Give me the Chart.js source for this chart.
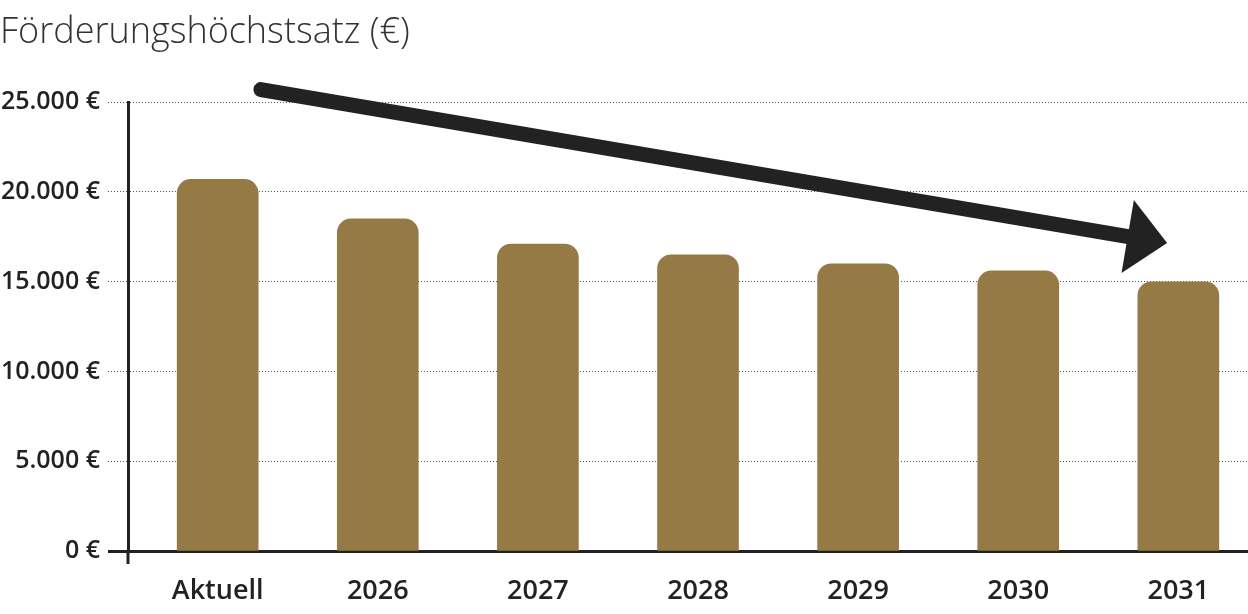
<!DOCTYPE html>
<html>
<head>
<meta charset="utf-8">
<script src="https://cdn.jsdelivr.net/npm/chart.js@4/dist/chart.umd.min.js"></script>
<style>
  html, body { margin: 0; padding: 0; background: #fff; }
  #wrap { position: relative; width: 1248px; height: 614px; }
</style>
</head>
<body>
<div id="wrap"><canvas id="chart"></canvas></div>
<script>
// data
const categories = ['Aktuell', '2026', '2027', '2028', '2029', '2030', '2031'];
const funding = [20700, 18500, 17100, 16500, 16000, 15600, 15000];
const yTicks = [0, 5000, 10000, 15000, 20000, 25000];
const yTickLabels = ['0 €', '5.000 €', '10.000 €', '15.000 €', '20.000 €', '25.000 €'];

const barColor = '#967a46';
const ink = '#222222';

// trend arrow, given in axis units (category index / euro)
const arrowFrom = { x: 0.27, y: 25700 };
const arrowTo = { x: 5.93, y: 17150 };

const arrowPlugin = {
    id: 'trendArrow',
    afterDraw(chart) {
        const { ctx, scales: { x, y }, chartArea } = chart;
        ctx.save();
        // y axis runs a little below the x axis
        ctx.strokeStyle = ink;
        ctx.lineWidth = 3;
        ctx.beginPath();
        ctx.moveTo(chartArea.left, chartArea.bottom);
        ctx.lineTo(chartArea.left, chartArea.bottom + 13);
        ctx.stroke();

        const x1 = x.getPixelForValue(arrowFrom.x), y1 = y.getPixelForValue(arrowFrom.y);
        const x2 = x.getPixelForValue(arrowTo.x), y2 = y.getPixelForValue(arrowTo.y);
        const ang = Math.atan2(y2 - y1, x2 - x1);
        const headLen = 40, headHalf = 37;
        const bx = x2 - headLen * Math.cos(ang), by = y2 - headLen * Math.sin(ang);

        ctx.strokeStyle = ink;
        ctx.fillStyle = ink;
        ctx.lineWidth = 15;
        ctx.lineCap = 'round';
        ctx.beginPath();
        ctx.moveTo(x1, y1);
        ctx.lineTo(bx + 2 * Math.cos(ang), by + 2 * Math.sin(ang));
        ctx.stroke();

        ctx.beginPath();
        ctx.moveTo(x2, y2);
        ctx.lineTo(bx - headHalf * Math.sin(ang), by + headHalf * Math.cos(ang));
        ctx.lineTo(bx + headHalf * Math.sin(ang), by - headHalf * Math.cos(ang));
        ctx.closePath();
        ctx.fill();
        ctx.restore();
    }
};

new Chart(document.getElementById('chart'), {
    type: 'bar',
    data: {
        datasets: [{
            data: funding.map((v, i) => ({ x: i, y: v })),
            backgroundColor: barColor,
            borderRadius: 14,
            borderSkipped: 'bottom',
            barThickness: 81
        }]
    },
    options: {
        responsive: true,
        maintainAspectRatio: false,
        animation: false,
        layout: { padding: 0 },
        plugins: {
            legend: { display: false },
            tooltip: { enabled: false },
            title: {
                display: true,
                text: 'Förderungshöchstsatz (€)',
                align: 'start',
                color: '#333333',
                font: { family: 'Open Sans', size: 36, weight: 300 },
                padding: { top: 11, bottom: 48 }
            }
        },
        scales: {
            x: {
                type: 'linear',
                offset: false,
                min: -0.56,
                max: 6.435,
                afterFit: (scale) => { scale.height = 63; },
                grid: { display: false },
                border: { display: true, color: ink, width: 3 },
                ticks: {
                    stepSize: 1,
                    includeBounds: false,
                    autoSkip: false,
                    maxRotation: 0,
                    padding: 16,
                    color: ink,
                    font: { family: 'Open Sans', size: 27, weight: 600 },
                    callback: (v) => categories[v] ?? ''
                }
            },
            y: {
                min: 0,
                max: 25000,
                afterFit: (scale) => { scale.width = 128; },
                afterBuildTicks: (scale) => { scale.ticks = yTicks.map(v => ({ value: v })); },
                grid: {
                    color: (c) => c.tick && c.tick.value === 0 ? 'rgba(0,0,0,0)' : '#555555',
                    lineWidth: 1,
                    tickLength: 20,
                    tickColor: (c) => c.tick && c.tick.value === 0 ? ink : '#555555',
                    tickWidth: (c) => c.tick && c.tick.value === 0 ? 3 : 1,
                    tickBorderDash: (c) => c.tick && c.tick.value === 0 ? [] : [1, 2]
                },
                border: { display: true, color: ink, width: 3, dash: [1, 2] },
                ticks: {
                    padding: 8,
                    color: ink,
                    font: { family: 'Open Sans', size: 25, weight: 600 },
                    callback: (v) => yTickLabels[yTicks.indexOf(v)]
                }
            }
        }
    },
    plugins: [arrowPlugin]
});
</script>
</body>
</html>
